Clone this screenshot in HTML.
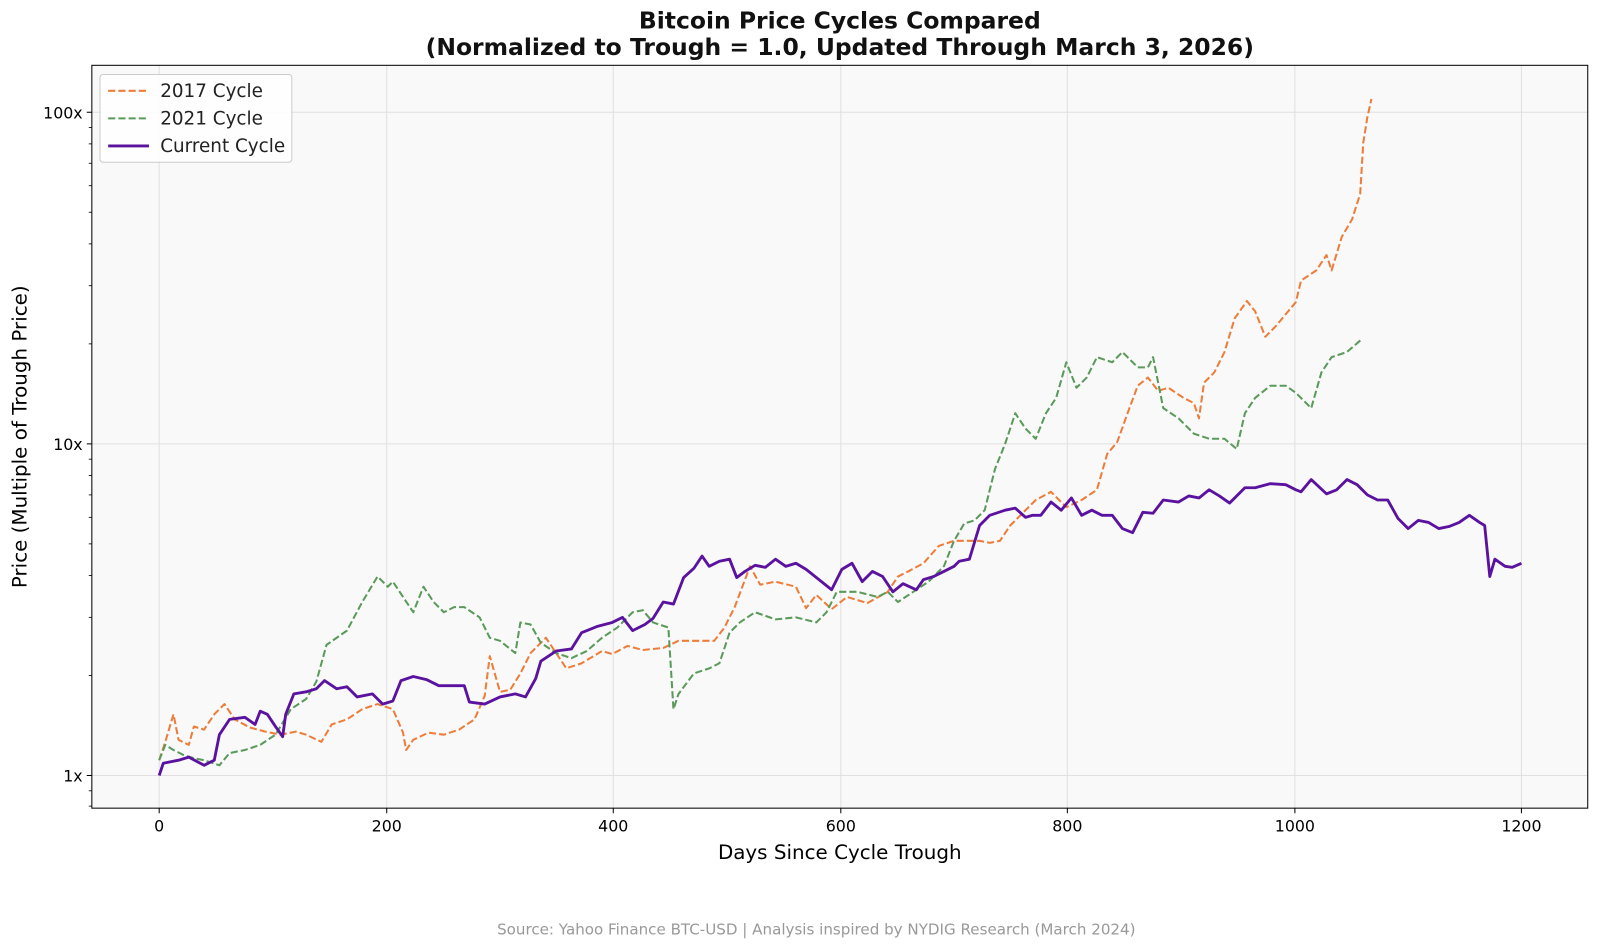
<!DOCTYPE html>
<html><head><meta charset="utf-8"><style>
body{margin:0;background:#fff;}
svg{display:block;font-family:"DejaVu Sans","Liberation Sans",sans-serif;}
</style></head><body>
<svg width="1600" height="950" viewBox="0 0 1600 950" xmlns="http://www.w3.org/2000/svg">
<rect width="1600" height="950" fill="#fff"/>
<g transform="scale(1.0204)">
<text x="823" y="28" text-anchor="middle" font-size="23" font-weight="bold" fill="#111">Bitcoin Price Cycles Compared</text>
<text x="823" y="54" text-anchor="middle" font-size="23" font-weight="bold" fill="#111">(Normalized to Trough = 1.0, Updated Through March 3, 2026)</text>
<rect x="90" y="64" width="1466" height="728" fill="#f9f9f9"/>
<g stroke="#e0e0e0" stroke-width="1">
<line x1="156" y1="64" x2="156" y2="792"/><line x1="379" y1="64" x2="379" y2="792"/><line x1="601" y1="64" x2="601" y2="792"/><line x1="824" y1="64" x2="824" y2="792"/><line x1="1046" y1="64" x2="1046" y2="792"/><line x1="1269" y1="64" x2="1269" y2="792"/><line x1="1491" y1="64" x2="1491" y2="792"/>
<line x1="90" y1="110" x2="1556" y2="110"/><line x1="90" y1="435" x2="1556" y2="435"/><line x1="90" y1="760" x2="1556" y2="760"/>
</g>
<g fill="none" stroke-linejoin="round">
<polyline stroke="#ed7d3a" stroke-width="2" stroke-dasharray="7,3" points="156,745 162,727 170,700 175,725 185,730 190,712 200,715 210,700 220,690 230,705 245,713 260,717 275,720 290,717 300,720 315,727 325,710 340,705 355,695 370,690 385,695 395,718 398,735 405,725 420,718 435,720 450,715 465,705 475,682 480,643 490,678 500,676 510,660 520,640 535,625 545,640 555,655 570,650 590,638 600,641 615,633 630,637 650,635 665,628 680,628 700,628 710,615 720,595 735,555 745,573 760,570 780,575 790,596 800,583 815,597 830,585 850,591 870,580 880,565 890,560 905,552 920,535 935,530 950,530 960,530 970,532 980,530 990,515 1000,505 1015,490 1030,482 1045,497 1060,490 1075,480 1085,445 1095,433 1105,405 1115,378 1125,370 1135,383 1145,380 1160,390 1170,395 1175,410 1180,375 1190,365 1200,345 1210,312 1222,295 1230,305 1240,330 1250,320 1260,308 1270,296 1275,275 1290,265 1300,250 1305,265 1315,232 1325,215 1333,190 1336,140 1340,115 1344,97"/>
<polyline stroke="#5a9a5a" stroke-width="2" stroke-dasharray="7,3" points="156,745 162,730 170,735 180,740 190,743 200,745 215,750 225,738 240,735 255,730 270,720 285,695 300,685 310,668 320,632 330,625 340,618 355,590 370,565 380,575 385,570 395,585 405,600 415,575 425,590 435,600 445,595 455,595 470,605 480,625 490,628 505,640 510,610 520,612 530,630 545,640 560,645 575,638 590,625 605,615 620,600 630,598 640,610 655,615 660,695 665,680 680,660 695,655 705,650 715,620 725,610 740,600 760,607 780,605 800,610 810,600 820,580 840,580 860,585 870,580 880,590 895,580 910,570 925,555 935,530 945,513 955,510 965,500 975,460 985,435 995,405 1005,420 1015,430 1025,405 1035,390 1045,355 1055,380 1065,370 1075,350 1090,355 1100,345 1115,360 1125,360 1130,350 1140,400 1155,410 1170,425 1185,430 1200,430 1212,440 1220,405 1230,390 1245,378 1260,378 1270,385 1285,400 1295,365 1305,350 1320,345 1335,332"/>
<polyline stroke="#5b139f" stroke-width="2.8" points="156,760 160,748 175,745 185,742 200,750 210,745 215,720 225,705 240,703 250,710 255,697 262,700 270,712 277,722 280,700 288,680 300,678 310,675 318,667 330,675 340,673 350,683 365,680 375,690 385,687 393,667 405,663 418,666 430,672 455,672 460,688 475,690 490,683 505,680 515,683 525,665 530,648 545,638 560,636 570,620 585,614 600,610 610,605 620,618 632,612 640,606 650,590 660,592 670,566 680,557 688,545 695,555 705,550 715,548 722,566 730,560 740,554 750,556 760,548 770,555 780,552 790,558 800,566 815,578 825,558 835,552 845,570 855,560 865,565 875,580 885,572 898,578 905,568 915,565 925,560 935,555 940,550 950,548 960,515 970,505 985,500 995,498 1005,507 1012,505 1020,505 1030,492 1040,500 1050,488 1060,505 1070,500 1080,505 1090,505 1100,518 1110,522 1120,502 1130,503 1140,490 1155,492 1165,486 1175,488 1185,480 1195,486 1205,493 1220,478 1230,478 1245,474 1260,475 1270,480 1275,482 1285,470 1300,484 1310,480 1320,470 1330,475 1340,485 1350,490 1360,490 1370,508 1380,518 1390,510 1400,512 1410,518 1420,516 1430,512 1440,505 1450,512 1455,515 1460,565 1465,548 1475,555 1482,556 1491,552"/>
</g>
<rect x="90" y="64" width="1466" height="728" fill="none" stroke="#000" stroke-width="1"/>
<g stroke="#000" stroke-width="1">
<line x1="156" y1="792" x2="156" y2="797"/><line x1="379" y1="792" x2="379" y2="797"/><line x1="601" y1="792" x2="601" y2="797"/><line x1="824" y1="792" x2="824" y2="797"/><line x1="1046" y1="792" x2="1046" y2="797"/><line x1="1269" y1="792" x2="1269" y2="797"/><line x1="1491" y1="792" x2="1491" y2="797"/>
<line x1="85" y1="110" x2="90" y2="110"/><line x1="85" y1="435" x2="90" y2="435"/><line x1="85" y1="760" x2="90" y2="760"/>
</g>
<g stroke="#000" stroke-width="0.8">
<line x1="87" y1="662" x2="90" y2="662"/><line x1="87" y1="605" x2="90" y2="605"/><line x1="87" y1="564" x2="90" y2="564"/><line x1="87" y1="533" x2="90" y2="533"/><line x1="87" y1="507" x2="90" y2="507"/><line x1="87" y1="485" x2="90" y2="485"/><line x1="87" y1="466" x2="90" y2="466"/><line x1="87" y1="450" x2="90" y2="450"/>
<line x1="87" y1="337" x2="90" y2="337"/><line x1="87" y1="280" x2="90" y2="280"/><line x1="87" y1="239" x2="90" y2="239"/><line x1="87" y1="208" x2="90" y2="208"/><line x1="87" y1="182" x2="90" y2="182"/><line x1="87" y1="160" x2="90" y2="160"/><line x1="87" y1="141" x2="90" y2="141"/><line x1="87" y1="125" x2="90" y2="125"/>
<line x1="87" y1="790" x2="90" y2="790"/><line x1="87" y1="775" x2="90" y2="775"/>
</g>
<g font-size="15.5" fill="#000" text-anchor="middle">
<text x="156" y="815">0</text><text x="379" y="815">200</text><text x="601" y="815">400</text><text x="824" y="815">600</text><text x="1046" y="815">800</text><text x="1269" y="815">1000</text><text x="1491" y="815">1200</text>
</g>
<g font-size="15.5" fill="#000" text-anchor="end">
<text x="81" y="116">100x</text><text x="81" y="441">10x</text><text x="81" y="766">1x</text>
</g>
<text x="823" y="842" text-anchor="middle" font-size="19.5" fill="#000">Days Since Cycle Trough</text>
<text transform="translate(26,428) rotate(-90)" text-anchor="middle" font-size="19.5" fill="#000">Price (Multiple of Trough Price)</text>
<text x="800" y="916" text-anchor="middle" font-size="14.8" fill="#999">Source: Yahoo Finance BTC-USD | Analysis inspired by NYDIG Research (March 2024)</text>
<rect x="98" y="73" width="188" height="86" rx="3" fill="#fff" fill-opacity="0.85" stroke="#ccc"/>
<line x1="106" y1="89" x2="146" y2="89" stroke="#ed7d3a" stroke-width="2" stroke-dasharray="7,3"/>
<line x1="106" y1="116" x2="146" y2="116" stroke="#5a9a5a" stroke-width="2" stroke-dasharray="7,3"/>
<line x1="106" y1="143" x2="146" y2="143" stroke="#5b139f" stroke-width="2.8"/>
<g font-size="18" fill="#222"><text x="157" y="95">2017 Cycle</text><text x="157" y="122">2021 Cycle</text><text x="157" y="149">Current Cycle</text></g>
</g>
</svg>
</body></html>
